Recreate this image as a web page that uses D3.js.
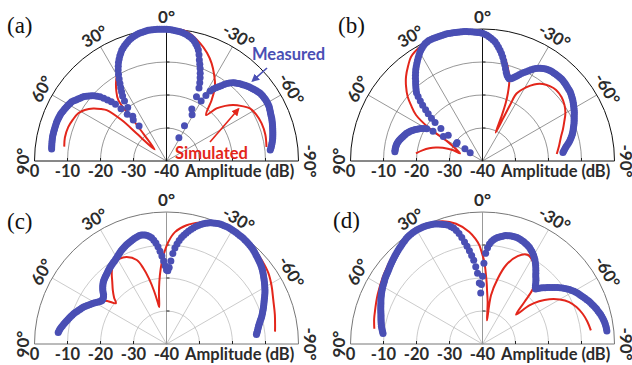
<!DOCTYPE html>
<html>
<head>
<meta charset="utf-8">
<script src="https://cdn.jsdelivr.net/npm/d3@7"></script>
<style>
  body { margin: 0; background: #fff; }
  svg { display: block; }
</style>
</head>
<body>
<svg id="chart" width="632" height="365"></svg>
<script>
// measured samples every degree, from +84 (left) to -84 (right)
const measuredAngles = d3.range(84, -85, -1)

const measuredA = [
  -5.0, -4.95, -4.9, -4.85, -4.8, -4.75, -4.7, -4.7, -4.7, -4.7,
  -4.7, -4.7, -4.7, -4.7, -4.7, -4.75, -4.8, -4.85, -4.9, -5.05,
  -5.2, -5.35, -5.5, -5.65, -5.8, -5.95, -6.1, -6.5, -6.9, -7.25,
  -7.6, -7.95, -8.3, -8.8, -9.3, -9.9, -10.5, -11.2, -12.0, -13.1,
  -14.3, -15.5, -16.9, -19.0, -21.5, -24.0, -26.5, -23.0, -20.0, -17.8,
  -16.2, -15.0, -13.8, -12.6, -11.3, -10.0, -8.8, -7.8, -6.8, -6.0,
  -5.2, -4.5, -3.8, -3.3, -2.8, -2.4, -2.0, -1.6, -1.3, -1.0,
  -0.8, -0.6, -0.4, -0.3, -0.2, -0.1, 0, 0, 0, 0,
  0, 0, -0.05, -0.08, -0.1, -0.15, -0.2, -0.3, -0.4, -0.5,
  -0.6, -0.8, -1.0, -1.2, -1.5, -1.8, -2.2, -2.7, -3.4, -4.1,
  -5.0, -6.3, -7.8, -9.0, -10.2, -11.5, -12.8, -14.2, -15.8, -18.5,
  -22.5, -28.0, -32.0, -24.0, -19.0, -16.8, -15.0, -14.0, -13.2, -12.5,
  -11.8, -11.0, -10.2, -9.6, -9.0, -8.6, -8.3, -7.9, -7.6, -7.3,
  -7.0, -6.7, -6.4, -6.15, -5.9, -5.65, -5.4, -5.2, -5.0, -4.9,
  -4.8, -4.75, -4.7, -4.7, -4.7, -4.75, -4.8, -4.95, -5.1, -5.25,
  -5.4, -5.5, -5.6, -5.75, -5.9, -6.05, -6.2, -6.35, -6.5, -6.65,
  -6.8, -6.95, -7.1, -7.3, -7.5, -7.7, -7.9, -8.15, -8.4
]
const measuredB = [
  -13.3, -13.3, -13.3, -13.35, -13.4, -13.5, -13.6, -13.8, -14.0, -14.25,
  -14.5, -14.75, -15.0, -15.25, -15.5, -15.85, -16.2, -16.6, -17.0, -17.5,
  -18.0, -18.5, -19.0, -19.7, -20.5, -22.5, -26.0, -30.5, -35.5, -33.5,
  -30.5, -27.0, -24.0, -21.5, -19.8, -18.2, -16.8, -15.2, -13.8, -12.4,
  -11.2, -10.5, -9.8, -9.1, -8.5, -7.7, -7.0, -6.3, -5.6, -5.0,
  -4.4, -3.8, -3.2, -2.6, -2.0, -1.5, -1.1, -0.7, -0.4, -0.2,
  0, 0, 0, 0, 0, 0, 0, 0, 0, 0,
  -0.1, -0.15, -0.2, -0.25, -0.3, -0.35, -0.4, -0.5, -0.6, -0.7,
  -0.8, -0.9, -1.0, -1.15, -1.3, -1.6, -1.9, -2.3, -2.7, -3.2,
  -3.7, -4.4, -5.2, -6.0, -6.9, -7.9, -9.0, -10.1, -11.2, -12.2,
  -13.0, -13.5, -13.8, -13.6, -13.2, -12.7, -12.2, -11.6, -11.0, -10.4,
  -9.9, -9.3, -8.7, -8.1, -7.6, -7.2, -6.9, -6.6, -6.3, -6.1,
  -5.9, -5.8, -5.7, -5.65, -5.6, -5.55, -5.5, -5.5, -5.5, -5.55,
  -5.6, -5.7, -5.8, -5.9, -6.0, -6.1, -6.2, -6.4, -6.6, -6.8,
  -7.0, -7.25, -7.5, -7.75, -8.0, -8.25, -8.5, -8.8, -9.1, -9.35,
  -9.6, -9.85, -10.1, -10.4, -10.7, -10.95, -11.2, -11.5, -11.8, -12.15,
  -12.5, -12.9, -13.3, -13.75, -14.2, -14.55, -14.9, -15.2, -15.5
]
const measuredC = [
  -7.0, -7.2, -7.4, -7.7, -8.0, -8.3, -8.6, -8.9, -9.2, -9.5,
  -9.8, -10.1, -10.4, -10.75, -11.1, -11.45, -11.8, -12.15, -12.5, -12.9,
  -13.3, -13.75, -14.2, -14.6, -15.0, -15.45, -15.9, -16.2, -16.4, -16.4,
  -16.3, -16.1, -15.8, -15.3, -14.8, -14.4, -14.0, -13.65, -13.3, -13.05,
  -12.8, -12.6, -12.4, -12.2, -12.0, -11.75, -11.5, -11.3, -11.1, -10.9,
  -10.7, -10.5, -10.3, -10.05, -9.8, -9.5, -9.2, -8.9, -8.6, -8.35,
  -8.1, -7.85, -7.6, -7.4, -7.2, -7.0, -6.8, -6.6, -6.4, -6.25,
  -6.1, -6.1, -6.2, -6.35, -6.6, -7.0, -7.5, -8.3, -9.2, -10.4,
  -11.8, -13.3, -14.8, -16.3, -17.6, -17.8, -16.8, -14.8, -12.5, -10.8,
  -9.5, -8.4, -7.4, -6.6, -5.9, -5.2, -4.5, -3.9, -3.3, -2.8,
  -2.3, -1.9, -1.5, -1.2, -0.9, -0.7, -0.5, -0.35, -0.2, -0.15,
  -0.1, -0.05, 0, -0.05, -0.1, -0.15, -0.2, -0.25, -0.3, -0.35,
  -0.4, -0.5, -0.6, -0.7, -0.8, -0.95, -1.1, -1.3, -1.5, -1.7,
  -1.9, -2.1, -2.3, -2.5, -2.7, -2.95, -3.2, -3.5, -3.8, -4.1,
  -4.4, -4.7, -5.0, -5.3, -5.6, -5.9, -6.2, -6.55, -6.9, -7.25,
  -7.6, -7.9, -8.2, -8.5, -8.8, -9.1, -9.4, -9.7, -10.0, -10.35,
  -10.7, -11.0, -11.3, -11.55, -11.8, -12.0, -12.2, -12.4, -12.6
]
const measuredD = [
  -9.7, -9.5, -9.3, -9.1, -8.9, -8.75, -8.6, -8.45, -8.3, -8.15,
  -8.0, -7.8, -7.6, -7.4, -7.2, -7.0, -6.8, -6.55, -6.3, -6.1,
  -5.9, -5.7, -5.5, -5.3, -5.1, -4.95, -4.8, -4.6, -4.4, -4.25,
  -4.1, -3.95, -3.8, -3.6, -3.4, -3.2, -3.0, -2.8, -2.6, -2.4,
  -2.2, -2.0, -1.8, -1.6, -1.4, -1.2, -1.0, -0.8, -0.6, -0.45,
  -0.3, -0.25, -0.2, -0.15, -0.1, -0.15, -0.2, -0.25, -0.3, -0.4,
  -0.5, -0.65, -0.8, -1.05, -1.3, -1.6, -1.9, -2.25, -2.6, -3.2,
  -3.8, -4.7, -5.8, -7.1, -8.6, -10.0, -11.5, -13.0, -14.5, -16.5,
  -18.5, -21.5, -24.5, -22.0, -19.5, -15.5, -12.5, -10.8, -9.6, -8.8,
  -8.2, -7.8, -7.4, -7.15, -6.9, -6.65, -6.4, -6.3, -6.2, -6.15,
  -6.1, -6.1, -6.1, -6.2, -6.3, -6.45, -6.6, -6.8, -7.0, -7.25,
  -7.5, -7.85, -8.2, -8.6, -9.0, -9.5, -10.0, -10.6, -11.2, -11.85,
  -12.5, -13.15, -13.8, -14.3, -14.8, -15.4, -16.0, -16.5, -16.8, -16.2,
  -15.6, -15.05, -14.5, -13.95, -13.4, -12.8, -12.2, -11.6, -11.0, -10.45,
  -9.9, -9.4, -8.9, -8.45, -8.0, -7.65, -7.3, -7.0, -6.7, -6.35,
  -6.0, -5.65, -5.3, -5.0, -4.7, -4.4, -4.1, -3.85, -3.6, -3.35,
  -3.1, -2.9, -2.7, -2.55, -2.4, -2.3, -2.2, -2.15, -2.1
]

// simulated curves: [angle (deg), amplitude (dB)] in drawing order
const simulatedA = [
  [82, -8.7], [77, -8.4], [71, -8.5], [66, -9.0], [61.6, -9.6], [58, -10.8],
  [54.3, -12.7], [51.5, -14.7], [49.6, -16.2], [47.6, -21.6], [47.2, -27.7], [46, -35],
  [40.4, -29.5], [39.1, -23.9], [38.3, -16.4], [35.5, -13.8], [33, -11.9], [30, -9.9],
  [26, -7], [20, -3.1], [12, -0.5], [6, 0], [0, 0], [-4, 0], [-9, -0.3], [-16, -2.9],
  [-20.5, -5], [-24.8, -7.4], [-29, -10.2], [-33.1, -13.1], [-36.5, -17], [-40.7, -21.6],
  [-43.6, -18], [-46.8, -15.6], [-50, -13.6], [-54, -11.7], [-57.8, -10.1], [-62.5, -9.4],
  [-68.4, -9], [-75, -9], [-82, -9.4]
]
const simulatedB = [
  [83.4, -19.7], [80, -21.5], [76.6, -23.4], [73.8, -25.3], [71.5, -27.3], [69.8, -30.4],
  [71.2, -32.8], [61, -27.9], [58.4, -21.1], [55.3, -15.5], [52, -12.5], [49.3, -10.1],
  [45.5, -7.5], [42.2, -5.5], [38, -3.4], [34.4, -1.7], [29, -0.6], [23.7, 0], [16, 0],
  [8, -0.3], [0, -1.0], [-6.5, -3.4], [-10.3, -6.3], [-14.9, -10.4], [-18.3, -14.1],
  [-20.5, -18], [-21.8, -21], [-23, -25], [-24.8, -30.5], [-25.8, -26], [-26.2, -21],
  [-26.8, -17.1], [-30.6, -14.1], [-34, -12], [-38, -10.4], [-42, -9.5], [-46, -9],
  [-51, -9.2], [-55.6, -9.9], [-60, -11], [-64.3, -12.5], [-68.5, -13.8], [-72.8, -15.1],
  [-78.5, -16.3], [-84.6, -17.4]
]
const simulatedC = [
  [84, -7.3], [80, -8.0], [76, -8.9], [72, -10.0], [68, -11.2], [64, -13], [60, -14.6],
  [57, -16], [54, -17.8], [51.2, -20.3], [48.5, -18.8], [45, -17], [41.1, -15],
  [37.4, -12.7], [33.5, -10.8], [29, -10.5], [24.6, -11], [19.5, -13], [17, -16],
  [15, -19.5], [13.2, -23.5], [11.9, -27], [11.2, -28.6], [8.5, -24.5], [6.6, -21.1],
  [4.4, -17.1], [2, -13.1], [-1, -9.1], [-4.3, -6], [-9.6, -3.5], [-15.4, -1.8],
  [-20, -0.8], [-25, -0.2], [-30, 0], [-36, -0.2], [-43.3, -0.9], [-49, -1.6],
  [-55.2, -2.4], [-61, -3.6], [-67.6, -5], [-75, -6], [-83.5, -6.9]
]
const simulatedD = [
  [82, -6.9], [77, -6.3], [71.8, -5.8], [66.5, -5.1], [61.8, -4.5], [56, -3.6],
  [50.3, -2.7], [45, -1.8], [40.1, -0.9], [34, -0.3], [28, 0], [23, -0.2], [18, -0.9],
  [12.4, -2.7], [6.7, -5.8], [3.9, -8], [1.8, -10.1], [0.3, -12.6], [-1.3, -15.1],
  [-2.5, -18.2], [-3.8, -21.2], [-5.1, -24.2], [-7, -27.2], [-8.6, -30.2], [-10.8, -32.7],
  [-9.9, -25], [-13.1, -19.7], [-16.6, -15.1], [-21.8, -11.3], [-26.8, -9.7], [-32, -10.9],
  [-35.5, -12.6], [-38.9, -14.5], [-42.5, -17.5], [-44.9, -22], [-48.8, -26.5],
  [-50.5, -21.6], [-53, -18.5], [-56.2, -15.6], [-60, -13], [-64.2, -10.8], [-68.5, -9.4],
  [-73.2, -8.3], [-78, -7.5], [-82.8, -6.9]
]

const dbTicks = [0, -10, -20, -30, -40]
const ringDb = [-30, -20, -10]
const spokeAngles = [60, 30, -30, -60]
const angleTicks = [90, 60, 30, 0, -30, -60, -90]

const panels = [
  { label: '(a)', lx: 7, ly: 33, cx: 166.5, cy: 161, measured: measuredA, simulated: simulatedA, dark: true },
  { label: '(b)', lx: 338, ly: 33, cx: 482.5, cy: 161, measured: measuredB, simulated: simulatedB, dark: true },
  { label: '(c)', lx: 7, ly: 229, cx: 166.5, cy: 344, measured: measuredC, simulated: simulatedC, dark: false },
  { label: '(d)', lx: 333, ly: 228, cx: 482.5, cy: 344, measured: measuredD, simulated: simulatedD, dark: false },
]

const blue = '#4a4fb4'
const red = '#e3261b'
const textColor = '#2b2b2b'
const font = 'Lato, "Open Sans", sans-serif'

const svg = d3.select('#chart')

const rScale = d3.scaleLinear().domain([-40, 0]).range([0, 132]).clamp(true)
// positive angles to the left, 0 at the top
const aScale = d3.scaleLinear().domain([-90, 90]).range([Math.PI / 2, -Math.PI / 2])

const defs = svg.append('defs')
;[['arrowBlue', blue], ['arrowRed', red]].forEach(([id, c]) => {
  defs.append('marker')
    .attr('id', id)
    .attr('viewBox', '0 0 10 10')
    .attr('refX', 8).attr('refY', 5)
    .attr('markerWidth', 5).attr('markerHeight', 5)
    .attr('orient', 'auto')
    .append('path')
      .attr('d', 'M0,0L10,5L0,10z')
      .attr('fill', c)
})

const simLine = d3.lineRadial()
  .angle((d) => aScale(d[0]))
  .radius((d) => rScale(d[1]))
  .curve(d3.curveCatmullRom.alpha(0.5))

panels.forEach((p) => {
  const g = svg.append('g').attr('transform', `translate(${p.cx},${p.cy})`)
  const gridColor = p.dark ? '#6a6a6a' : '#b4b4b4'
  const axisColor = p.dark ? '#111' : '#777'

  // rings
  ringDb.forEach((db) => {
    const r = rScale(db)
    const path = d3.path()
    path.moveTo(-r, 0)
    path.arc(0, 0, r, Math.PI, 2 * Math.PI)
    g.append('path')
      .attr('d', path.toString())
      .attr('fill', 'none')
      .attr('stroke', gridColor)
      .attr('stroke-width', 0.7)
  })

  // spokes
  spokeAngles.forEach((a) => {
    const [x, y] = d3.pointRadial(aScale(a), rScale(0))
    g.append('line')
      .attr('x1', 0).attr('y1', 0).attr('x2', x).attr('y2', y)
      .attr('stroke', gridColor)
      .attr('stroke-width', 0.7)
  })

  // outer ring
  const outer = d3.path()
  outer.moveTo(-rScale(0), 0)
  outer.arc(0, 0, rScale(0), Math.PI, 2 * Math.PI)
  g.append('path')
    .attr('d', outer.toString())
    .attr('fill', 'none')
    .attr('stroke', axisColor)
    .attr('stroke-width', 1)

  // base line and 0 deg axis
  g.append('line')
    .attr('x1', -rScale(0)).attr('x2', rScale(0)).attr('y1', 0).attr('y2', 0)
    .attr('stroke', axisColor).attr('stroke-width', 1)
  g.append('line')
    .attr('x1', 0).attr('x2', 0).attr('y1', 0).attr('y2', -rScale(0))
    .attr('stroke', p.dark ? '#111' : '#999').attr('stroke-width', 1)

  // small ticks
  ringDb.forEach((db) => {
    const r = rScale(db)
    g.append('line').attr('x1', -r).attr('x2', -r).attr('y1', 0).attr('y2', -3)
      .attr('stroke', '#222').attr('stroke-width', 1)
    g.append('line').attr('x1', r).attr('x2', r).attr('y1', 0).attr('y2', -3)
      .attr('stroke', '#222').attr('stroke-width', 1)
    g.append('line').attr('x1', 0).attr('x2', 3).attr('y1', -r).attr('y2', -r)
      .attr('stroke', '#222').attr('stroke-width', 1)
  })

  // simulated
  g.append('path')
    .attr('d', simLine(p.simulated))
    .attr('fill', 'none')
    .attr('stroke', red)
    .attr('stroke-width', 2)

  // measured
  g.selectAll('circle.m')
    .data(measuredAngles.map((a, i) => [a, p.measured[i]]))
    .enter().append('circle')
      .attr('class', 'm')
      .attr('cx', (d) => d3.pointRadial(aScale(d[0]), rScale(d[1]))[0])
      .attr('cy', (d) => d3.pointRadial(aScale(d[0]), rScale(d[1]))[1])
      .attr('r', 3.5)
      .attr('fill', blue)

  // amplitude tick labels
  g.selectAll('text.db')
    .data(dbTicks)
    .enter().append('text')
      .attr('class', 'db')
      .attr('x', (d) => -rScale(d))
      .attr('y', 16)
      .attr('text-anchor', 'middle')
      .attr('font-family', font)
      .attr('font-weight', 700)
      .attr('font-size', 16.5)
      .attr('fill', textColor)
      .text((d) => d)
  g.append('text')
    .attr('x', 18.5).attr('y', 16)
    .attr('font-family', font)
    .attr('font-weight', 700)
    .attr('font-size', 16.5)
    .attr('fill', textColor)
    .text('Amplitude (dB)')

  // angle labels
  g.selectAll('text.ang')
    .data(angleTicks)
    .enter().append('text')
      .attr('class', 'ang')
      .attr('transform', (d) => {
        const [x, y] = d3.pointRadial(aScale(d), 144)
        return `translate(${x},${y}) rotate(${-d})`
      })
      .attr('dy', '0.36em')
      .attr('text-anchor', 'middle')
      .attr('font-family', font)
      .attr('font-weight', 700)
      .attr('font-size', 17)
      .attr('fill', textColor)
      .text((d) => `${d}°`)

  svg.append('text')
    .attr('x', p.lx).attr('y', p.ly)
    .attr('font-family', '"Liberation Serif", serif')
    .attr('font-size', 23)
    .attr('fill', '#111')
    .text(p.label)
})

// legend labels with arrows (panel a)
svg.append('text')
  .attr('x', 252).attr('y', 59.5)
  .attr('font-family', font).attr('font-weight', 700).attr('font-size', 16.5)
  .attr('fill', blue)
  .text('Measured')
svg.append('line')
  .attr('x1', 267).attr('y1', 68).attr('x2', 252.5).attr('y2', 81)
  .attr('stroke', blue).attr('stroke-width', 1.6)
  .attr('marker-end', 'url(#arrowBlue)')

svg.append('text')
  .attr('x', 175).attr('y', 158.5)
  .attr('font-family', font).attr('font-weight', 700).attr('font-size', 16.5)
  .attr('fill', red)
  .text('Simulated')
svg.append('line')
  .attr('x1', 210).attr('y1', 142).attr('x2', 238.5).attr('y2', 109)
  .attr('stroke', red).attr('stroke-width', 1.6)
  .attr('marker-end', 'url(#arrowRed)')
</script>
</body>
</html>
